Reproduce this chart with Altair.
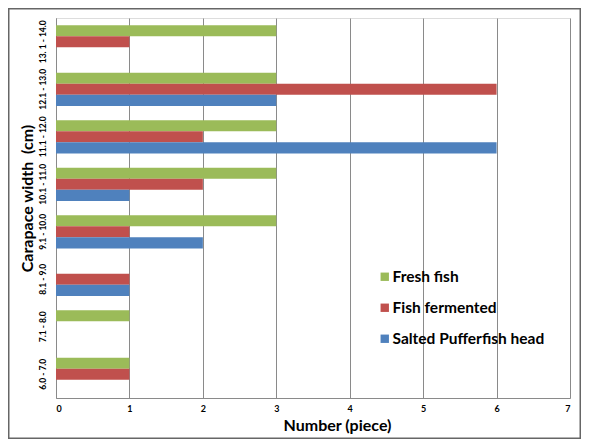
import altair as alt
import pandas as pd

categories = ["6.0 - 7.0", "7.1 - 8.0", "8.1 - 9.0", "9.1 - 10.0",
              "10.1 - 11.0", "11.1 - 12.0", "12.1 - 13.0", "13. 1 - 14.0"]
series = ["Fresh fish", "Fish fermented", "Salted Pufferfish head"]
fresh = [1, 1, 0, 3, 3, 3, 3, 3]
fermented = [1, 0, 1, 1, 2, 2, 6, 1]
salted = [0, 0, 1, 2, 1, 6, 3, 0]
colors = ["#9BBB59", "#C0504D", "#4F81BD"]
x_ticks = [0, 1, 2, 3, 4, 5, 6, 7]

rows = []
for s, vals in zip(series, [fresh, fermented, salted]):
    for c, v in zip(categories, vals):
        rows.append({"width": c, "series": s, "count": v})
df = pd.DataFrame(rows)

FONT = "Lato"
GRID = "#8a8a8a"

bars = alt.Chart(df).mark_bar().encode(
    x=alt.X("count:Q",
            scale=alt.Scale(domain=[0, 7], nice=False),
            axis=alt.Axis(values=x_ticks, grid=True, gridColor=GRID, gridWidth=1,
                          domainColor=GRID, ticks=False, labelPadding=6,
                          labelFontSize=9, labelFontWeight="bold", labelFont=FONT,
                          labelColor="#000", title="Number (piece)",
                          titleFont=FONT, titleFontSize=16, titleFontWeight="bold",
                          titleColor="#000", titleX=281, titleY=32,
                          titleAlign="center", titleBaseline="alphabetic")),
    y=alt.Y("width:N", sort=list(reversed(categories)),
            scale=alt.Scale(paddingInner=0.3, paddingOuter=0.15),
            axis=alt.Axis(grid=False, domainColor=GRID, ticks=False, labelAngle=-90,
                          labelAlign="center", labelBaseline="bottom", labelPadding=9,
                          labelFontSize=8.5, labelFontWeight="bold", labelFont=FONT,
                          labelColor="#000", title="Carapace width\u00a0 (cm)",
                          titleFont=FONT, titleFontSize=16, titleFontWeight="bold",
                          titleColor="#000", titleX=-29, titleY=180, titleAngle=270,
                          titleAlign="center", titleBaseline="middle")),
    yOffset=alt.YOffset("series:N", sort=series),
    color=alt.Color("series:N", sort=series,
                    scale=alt.Scale(domain=series, range=colors),
                    legend=alt.Legend(orient="none", legendX=321, legendY=251,
                                      title=None, symbolType="square", symbolSize=70,
                                      symbolStrokeWidth=0, labelFont=FONT,
                                      labelFontSize=15.5, labelFontWeight="bold",
                                      labelColor="#000", rowPadding=14, padding=0,
                                      labelOffset=0)),
)

border = alt.Chart(pd.DataFrame({"a": [0]})).mark_rect(
    fillOpacity=0, stroke="#666666", strokeWidth=1.5, clip=False
).encode(x=alt.value(-47.25), x2=alt.value(524.25), y=alt.value(-9.25), y2=alt.value(420.25))

chart = alt.layer(border, bars).properties(
    width=514, height=380,
    autosize=alt.AutoSizeParams(type="none"),
    padding={"left": 48, "top": 10, "right": 11, "bottom": 41},
).configure_view(stroke=None).configure(background="white")

chart.save("out.html", embed_options={"renderer": "svg", "actions": False})
